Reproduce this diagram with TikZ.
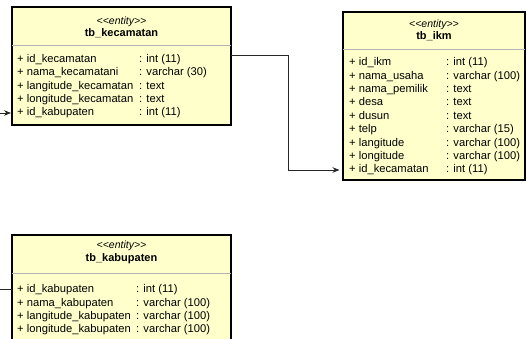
\documentclass[tikz,border=0pt]{standalone}
\usepackage{fontspec}
\setmainfont{Liberation Sans}
\usepackage{xcolor}
\usetikzlibrary{arrows.meta, positioning}
\definecolor{entityfill}{RGB}{255,255,204}
\definecolor{sepgray}{RGB}{180,180,180}

\begin{document}
\begin{tikzpicture}[x=1pt, y=-1pt, >=Stealth,
    entity/.style={draw, line width=2pt, fill=entityfill, anchor=north west, inner sep=0pt, outer sep=0pt},
    stereo/.style={font=\fontsize{10.5}{12}\selectfont\itshape, inner sep=0pt},
    title/.style={font=\fontsize{11}{13}\selectfont\bfseries, inner sep=0pt, text height=8pt, text depth=2.5pt},
    attr/.style={font=\fontsize{11.2}{13}\selectfont, anchor=west, inner sep=0pt, text height=8pt, text depth=2.5pt},
    sep/.style={draw=sepgray, line width=1pt},
    link/.style={draw=black!85, line width=0.8pt, ->, >={Stealth[length=7pt, width=5.5pt]}}]
    \useasboundingbox (0,0) rectangle (527,339);

    % tb_kecamatan
    \node[entity, minimum width=219pt, minimum height=118pt] (kecamatan) at (12,7) {};
    \node[stereo] (kecamatan-st) at (121.5,21.5) {<{}<entity>{}>};
    \node[title] (kecamatan-title) at (121.5,33.5) {tb\_kecamatan};
    \draw[sep] (12,46) -- (231,46);
    \foreach \n/\t [count=\i from 0] in {id\_kecamatan/int (11), nama\_kecamatani/varchar (30),
        langitude\_kecamatan/text, longitude\_kecamatan/text, id\_kabupaten/int (11)} {
        \node[attr] at (17,60+13.25*\i) {+ \n};
        \node[attr] at (139,60+13.25*\i) {: \t};
    }

    % tb_ikm
    \node[entity, minimum width=182pt, minimum height=168pt] (ikm) at (343,12) {};
    \node[stereo] (ikm-st) at (434,25) {<{}<entity>{}>};
    \node[title] (ikm-title) at (434,37) {tb\_ikm};
    \draw[sep] (343,50) -- (525,50);
    \foreach \n/\t [count=\i from 0] in {id\_ikm/int (11), nama\_usaha/varchar (100),
        nama\_pemilik/text, desa/text, dusun/text, telp/varchar (15),
        langitude/varchar (100), longitude/varchar (100), id\_kecamatan/int (11)} {
        \node[attr] at (349,63+13.4*\i) {+ \n};
        \node[attr] at (446,63+13.4*\i) {: \t};
    }

    % tb_kabupaten
    \node[entity, minimum width=219pt, minimum height=130pt] (kabupaten) at (12,235) {};
    \node[stereo] (kabupaten-st) at (121.5,246) {<{}<entity>{}>};
    \node[title] (kabupaten-title) at (121.5,259) {tb\_kabupaten};
    \draw[sep] (12,273) -- (231,273);
    \foreach \n/\t [count=\i from 0] in {id\_kabupaten/int (11), nama\_kabupaten/varchar (100),
        langitude\_kabupaten/varchar (100), longitude\_kabupaten/varchar (100)} {
        \node[attr] at (17,290+13.25*\i) {+ \n};
        \node[attr] at (136,290+13.25*\i) {: \t};
    }

    \draw[link, shorten >=3.5pt] (kecamatan.east |- 0,55) -- (288,55) |- (ikm.west |- 0,170);
    \draw[link, shorten >=1pt] (kabupaten.west |- 0,289) -- (-6,289) |- (kecamatan.west |- 0,113);
\end{tikzpicture}
\end{document}
